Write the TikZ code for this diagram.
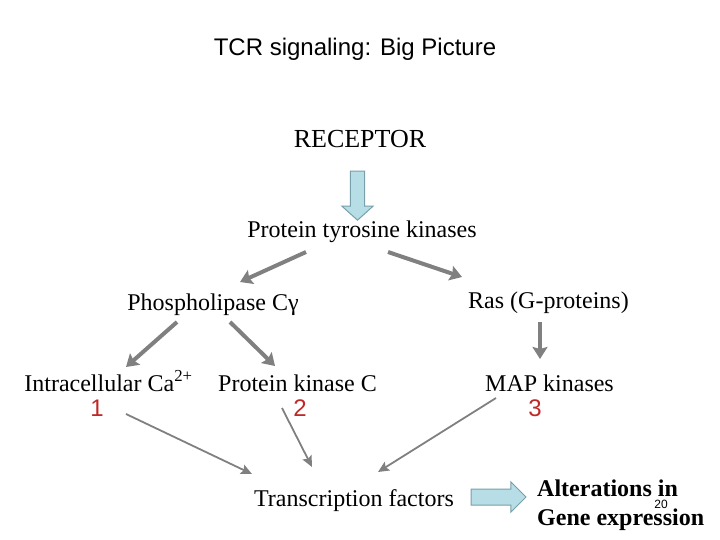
\documentclass[tikz,border=0pt]{standalone}
\usepackage{fontspec}
\setmainfont{Liberation Serif}
\setsansfont{Liberation Sans}
\usetikzlibrary{arrows.meta,shapes.arrows}
\definecolor{arrgray}{RGB}{128,128,128}
\definecolor{numred}{RGB}{192,40,40}
\definecolor{bfill}{RGB}{183,221,230}
\definecolor{bline}{RGB}{120,160,170}

\begin{document}
\begin{tikzpicture}[x=1pt,y=-1pt,
  every node/.style={inner sep=0pt,anchor=base},
  lbl/.style={font=\fontsize{24}{29}\selectfont},
  num/.style={font=\sffamily\fontsize{24}{29}\selectfont,text=numred},
  bigarr/.style={draw=arrgray,line width=4pt,-{Stealth[length=12pt,width=15pt,inset=2pt]}},
  smallarr/.style={draw=arrgray,line width=1.8pt,-{Stealth[length=11pt,width=10pt,inset=2pt]}},
  blockarr/.style={single arrow,draw=bline,fill=bfill,line width=1pt,anchor=center,inner xsep=0pt}]
  \useasboundingbox (0,0) rectangle (720,540);
  \node[font=\sffamily\fontsize{24}{29}\selectfont] (title) at (355,56) {TCR signaling: Big Picture};
  \node[font=\fontsize{26}{30}\selectfont] (receptor) at (360,148) {RECEPTOR};
  \node[blockarr,rotate=-90,inner ysep=5.5pt,minimum height=49pt,minimum width=31pt,
    single arrow tip angle=96] (downarr) at (357.5,192.5) {};
  \node[lbl] (ptk) at (362,237) {Protein tyrosine kinases};
  \node[lbl] (plc) at (213,310) {Phospholipase Cγ};
  \node[lbl] (ras) at (548.5,308) {Ras (G-proteins)};
  \node[lbl] (ca) at (108.5,391) {Intracellular Ca\textsuperscript{2+}};
  \node[lbl] (pkc) at (297.5,391) {Protein kinase C};
  \node[lbl] (mapk) at (549.5,391) {MAP kinases};
  \node[num] (one) at (97,416) {1};
  \node[num] (two) at (300,416) {2};
  \node[num] (three) at (535,416) {3};
  \node[lbl] (tf) at (354,506) {Transcription factors};
  \node[blockarr,inner ysep=7.5pt,minimum height=55pt,minimum width=28pt,
    single arrow tip angle=90] (rightarr) at (494.5,497) {};
  \node[lbl,font=\bfseries\fontsize{24}{29}\selectfont,align=left,anchor=base west] (alt) at (537,525)
    {Alterations in\\Gene expression};
  \node[font=\sffamily\fontsize{12}{14}\selectfont] (pagenum) at (661,508) {20};
  \draw[bigarr] ([xshift=-56pt,yshift=-15pt]ptk.base) -- ([xshift=27pt,yshift=28pt]plc.base);
  \draw[bigarr] ([xshift=26pt,yshift=-15pt]ptk.base) -- ([xshift=-86.5pt,yshift=31pt]ras.base);
  \draw[bigarr] ([xshift=-36pt,yshift=-12pt]plc.base) -- ([xshift=17.5pt,yshift=24pt]ca.base);
  \draw[bigarr] ([xshift=17pt,yshift=-12pt]plc.base) -- ([xshift=-22.5pt,yshift=25pt]pkc.base);
  \draw[bigarr] ([xshift=-8.5pt,yshift=-14pt]ras.base) -- ([xshift=-9.5pt,yshift=32pt]mapk.base);
  \draw[smallarr] ([xshift=29pt,yshift=2pt]one.base) -- ([xshift=-102pt,yshift=32pt]tf.base);
  \draw[smallarr] ([xshift=-18pt,yshift=8pt]two.base) -- ([xshift=-42pt,yshift=39pt]tf.base);
  \draw[smallarr] ([xshift=-39pt,yshift=18pt]three.base) -- ([xshift=24pt,yshift=34pt]tf.base);
\end{tikzpicture}
\end{document}
